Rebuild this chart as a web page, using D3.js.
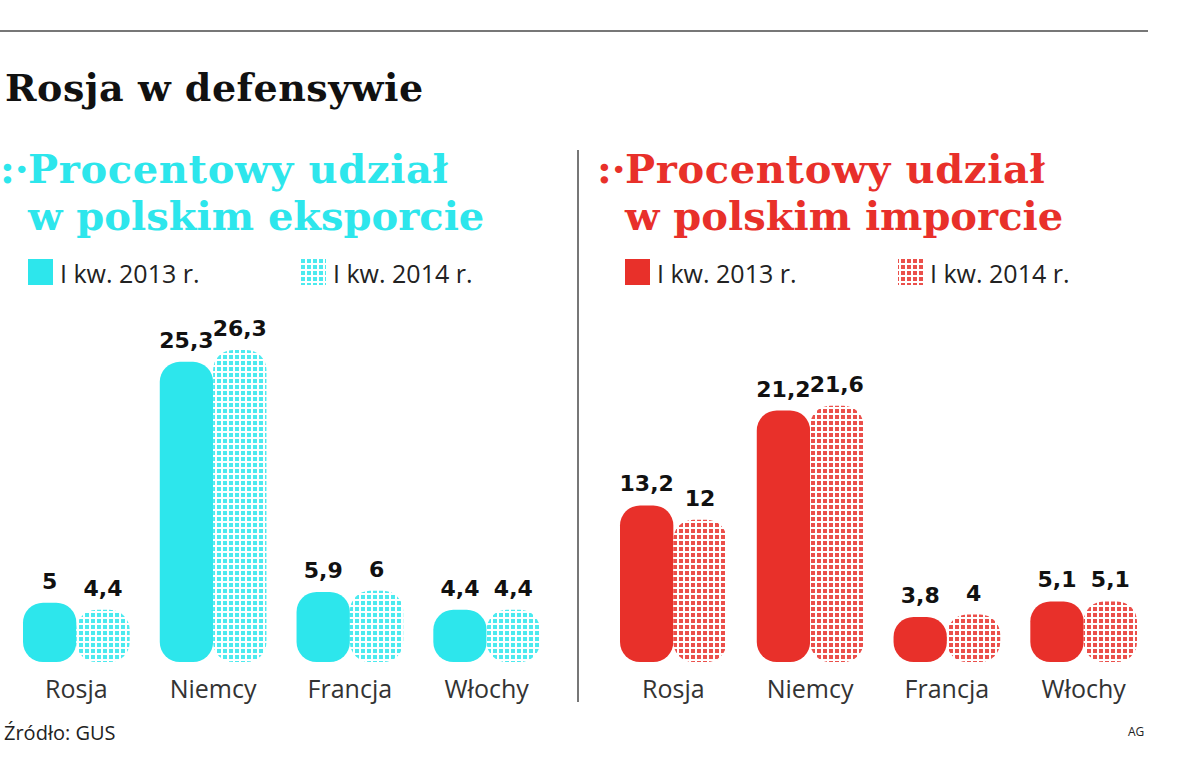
<!DOCTYPE html>
<html><head><meta charset="utf-8">
<script src="https://cdn.jsdelivr.net/npm/d3@7"></script>
<style>body{margin:0;background:#fff}</style>
</head><body><div id="chart"></div>
<script>
const categories = ["Rosja", "Niemcy", "Francja", "Włochy"];
const exportValues2013 = [5, 25.3, 5.9, 4.4];
const exportValues2014 = [4.4, 26.3, 6, 4.4];
const importValues2013 = [13.2, 21.2, 3.8, 5.1];
const importValues2014 = [12, 21.6, 4, 5.1];
const seriesLabels = ["I kw. 2013 r.", "I kw. 2014 r."];

const width = 1200, height = 775;
const svg = d3.select("#chart").append("svg").attr("width", width).attr("height", height);
const defs = svg.append("defs");

function addPattern(id, color) {
  const p = defs.append("pattern").attr("id", id).attr("width", 6).attr("height", 6)
    .attr("patternUnits", "userSpaceOnUse");
  p.append("rect").attr("width", 6).attr("height", 6).attr("fill", "#fff");
  p.append("rect").attr("x", 1).attr("y", 1).attr("width", 4).attr("height", 4).attr("fill", color).attr("opacity", 0.85);
}
const cyan = "#2de6ec", red = "#e8302a";
addPattern("dotCyan", cyan);
addPattern("dotRed", red);

svg.append("line").attr("x1", 0).attr("x2", 1148).attr("y1", 31).attr("y2", 31).attr("stroke", "#777").attr("stroke-width", 2);
svg.append("text").attr("x", 5).attr("y", 101).attr("font-family", "DejaVu Serif, serif").attr("font-weight", "bold")
  .attr("font-size", 38).attr("letter-spacing", 0.5).attr("fill", "#111").text("Rosja w defensywie");
svg.append("line").attr("x1", 578).attr("x2", 578).attr("y1", 150).attr("y2", 702).attr("stroke", "#777").attr("stroke-width", 2);

const y = d3.scaleLinear().domain([0, 26.3]).range([662, 350]);

function panel(x0, color, patternId, title1, title2, v13, v14) {
  const g = svg.append("g");
  g.append("text").attr("x", x0 - 33).attr("y", 183).attr("font-family", "DejaVu Serif, serif").attr("font-weight", "bold")
    .attr("font-size", 40).attr("fill", color).text(":·");
  g.append("text").attr("x", x0 - 5).attr("y", 183).attr("font-family", "DejaVu Serif, serif").attr("font-weight", "bold")
    .attr("font-size", 40).attr("textLength", 420).attr("fill", color).text(title1);
  g.append("text").attr("x", x0 - 5).attr("y", 230).attr("font-family", "DejaVu Serif, serif").attr("font-weight", "bold")
    .attr("font-size", 40).attr("fill", color).text(title2);

  const legX = [x0 - 5, x0 + 268];
  seriesLabels.forEach((lab, i) => {
    g.append("rect").attr("x", legX[i]).attr("y", 259).attr("width", 25).attr("height", 26)
      .attr("fill", i === 0 ? color : `url(#${patternId})`);
    g.append("text").attr("x", legX[i] + 32).attr("y", 283).attr("font-family", "Open Sans, sans-serif")
      .attr("font-size", 25).attr("fill", "#222").text(lab);
  });

  const x = d3.scaleBand().domain(categories).range([x0 - 10, x0 + 507]).paddingInner(0.22).paddingOuter(0);
  const sub = d3.scaleBand().domain([0, 1]).range([0, x.bandwidth()]);

  categories.forEach((c, i) => {
    [v13[i], v14[i]].forEach((v, k) => {
      const bx = x(c) + sub(k), bw = sub.bandwidth(), by = y(v), bh = y(0) - y(v);
      const r = Math.min(20, bh / 2, bw / 2);
      g.append("rect").attr("x", bx).attr("y", by).attr("width", bw).attr("height", bh)
        .attr("rx", r).attr("ry", r).attr("fill", k === 0 ? color : `url(#${patternId})`);
      g.append("text").attr("x", bx + bw / 2).attr("y", by - 14).attr("text-anchor", "middle")
        .attr("font-family", "DejaVu Sans, sans-serif").attr("font-weight", "bold").attr("font-size", 22)
        .attr("fill", "#111").text(String(v).replace(".", ","));
    });
    g.append("text").attr("x", x(c) + x.bandwidth() / 2).attr("y", 698).attr("text-anchor", "middle")
      .attr("font-family", "Open Sans, sans-serif").attr("font-size", 25).attr("fill", "#333").text(c);
  });
}

panel(33, cyan, "dotCyan", "Procentowy udział", "w polskim eksporcie", exportValues2013, exportValues2014);
panel(630, red, "dotRed", "Procentowy udział", "w polskim imporcie", importValues2013, importValues2014);

svg.append("text").attr("x", 4).attr("y", 740).attr("font-family", "Open Sans, sans-serif").attr("font-size", 20)
  .attr("fill", "#222").text("Źródło: GUS");
svg.append("text").attr("x", 1128).attr("y", 736).attr("font-family", "Open Sans, sans-serif").attr("font-size", 12)
  .attr("fill", "#222").text("AG");
</script></body></html>
